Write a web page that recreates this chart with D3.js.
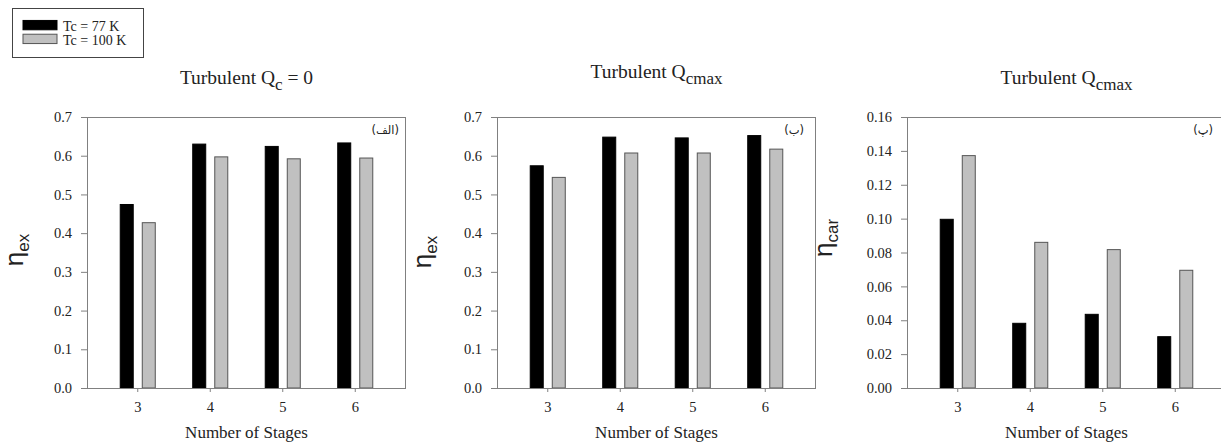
<!DOCTYPE html>
<html lang="en">
<head>
<meta charset="UTF-8" />
<title>Turbulent stages</title>
<style>
  body { margin: 0; background: #fff; }
  svg text { fill: #222; }
</style>
</head>
<body>
<script src="https://cdn.jsdelivr.net/npm/d3@7"></script>
<div id="app"></div>
<script>
// data
const stages = [3, 4, 5, 6];
const seriesNames = ["Tc = 77 K", "Tc = 100 K"];
const qc0Tc77 = [0.474, 0.630, 0.624, 0.633];
const qc0Tc100 = [0.427, 0.597, 0.592, 0.594];
const qmaxExTc77 = [0.574, 0.648, 0.646, 0.652];
const qmaxExTc100 = [0.544, 0.607, 0.607, 0.617];
const qmaxCarTc77 = [0.0996, 0.0382, 0.0435, 0.0303];
const qmaxCarTc100 = [0.1372, 0.0860, 0.0817, 0.0695];
const exTicks = [0, 0.1, 0.2, 0.3, 0.4, 0.5, 0.6, 0.7];
const carTicks = [0, 0.02, 0.04, 0.06, 0.08, 0.10, 0.12, 0.14, 0.16];

const W = 1221, H = 444;
const colors = ["#000000", "#c0c0c0"];
const strokes = ["#000000", "#555555"];
const serif = "'Liberation Serif', 'Times New Roman', serif";
const sans = "'Liberation Sans', Arial, sans-serif";

const svg = d3.select("#app").append("svg")
  .attr("width", W).attr("height", H);

//panels
const panels = [
  { left: 87, right: 406, title: "Turbulent Q", sub: "c", after: " = 0", titleY: 84,
    ylab: "ex", ylabX: 23, ylabY: 250, max: 0.7, ticks: exTicks, fmt: ".1f",
    vals: [qc0Tc77, qc0Tc100], tag: "(الف)", tagPad: 7 },
  { left: 497, right: 816, title: "Turbulent Q", sub: "cmax", after: "", titleY: 78,
    ylab: "ex", ylabX: 431, ylabY: 252, max: 0.7, ticks: exTicks, fmt: ".1f",
    vals: [qmaxExTc77, qmaxExTc100], tag: "(ب)", tagPad: 12 },
  { left: 907, right: 1226, title: "Turbulent Q", sub: "cmax", after: "", titleY: 84,
    ylab: "car", ylabX: 832, ylabY: 238, max: 0.16, ticks: carTicks, fmt: ".2f",
    vals: [qmaxCarTc77, qmaxCarTc100], tag: "(پ)", tagPad: 8 }
];
const plotTop = 117, plotBottom = 388;
const axisColor = "#808080";

panels.forEach(p => {
  const g = svg.append("g");
  const x = d3.scaleBand().domain(stages).range([p.left, p.right])
    .paddingInner(0).paddingOuter(0.2);
  const xs = d3.scaleBand().domain(seriesNames).range([0, x.bandwidth()])
    .paddingInner(0.41).paddingOuter(0.85);
  const y = d3.scaleLinear().domain([0, p.max]).range([plotBottom, plotTop]);

  // frame top and right
  g.append("line").attr("x1", p.left).attr("x2", p.right)
    .attr("y1", plotTop + 0.5).attr("y2", plotTop + 0.5).attr("stroke", axisColor);
  g.append("line").attr("x1", p.right - 0.5).attr("x2", p.right - 0.5)
    .attr("y1", plotTop).attr("y2", plotBottom).attr("stroke", axisColor);

  // bars
  seriesNames.forEach((s, si) => {
    g.selectAll(null).data(stages).enter().append("rect")
      .attr("x", (d) => x(d) + xs(s))
      .attr("width", xs.bandwidth())
      .attr("y", (d, i) => y(p.vals[si][i]))
      .attr("height", (d, i) => plotBottom - y(p.vals[si][i]))
      .attr("fill", colors[si])
      .attr("stroke", strokes[si])
      .attr("stroke-width", 1);
  });

  // y axis
  const ya = g.append("g").attr("transform", `translate(${p.left},0)`)
    .call(d3.axisLeft(y).tickValues(p.ticks).tickFormat(d3.format(p.fmt))
      .tickSize(6).tickPadding(9).tickSizeOuter(0));
  ya.select(".domain").attr("stroke", axisColor);
  ya.selectAll(".tick line").attr("stroke", axisColor);
  ya.selectAll("text").style("font-family", serif).style("font-size", "14.5px").attr("fill", "#222");

  // x axis
  const xa = g.append("g").attr("transform", `translate(0,${plotBottom})`)
    .call(d3.axisBottom(x).tickSize(4).tickPadding(10).tickSizeOuter(0));
  xa.select(".domain").attr("d", `M${p.left - 6},0.5H${p.right}`).attr("stroke", axisColor);
  xa.selectAll(".tick line").attr("stroke", axisColor);
  xa.selectAll("text").style("font-family", serif).style("font-size", "14.5px").attr("fill", "#222");

  // x title
  g.append("text").attr("x", (p.left + p.right) / 2).attr("y", 438)
    .attr("text-anchor", "middle")
    .style("font-family", serif).style("font-size", "17px")
    .text("Number of Stages");

  // panel title
  const t = g.append("text").attr("x", (p.left + p.right) / 2).attr("y", p.titleY)
    .attr("text-anchor", "middle")
    .style("font-family", serif).style("font-size", "19.5px");
  t.append("tspan").text(p.title);
  t.append("tspan").attr("dy", 6).style("font-size", "17px").text(p.sub);
  if (p.after) t.append("tspan").attr("dy", -6).text(p.after);

  // y label
  const yl = g.append("text")
    .attr("transform", `translate(${p.ylabX},${p.ylabY}) rotate(-90)`)
    .attr("text-anchor", "middle")
    .style("font-family", sans);
  yl.append("tspan").style("font-size", "26px").text("η");
  yl.append("tspan").attr("dy", 6).style("font-size", "17px").text(p.ylab);

  // corner tag
  g.append("text").attr("x", Math.min(p.right, W) - p.tagPad).attr("y", 134)
    .attr("text-anchor", "end")
    .style("font-family", "'DejaVu Sans', sans-serif").style("font-size", "11.5px")
    .text(p.tag);
});

//legend
const leg = svg.append("g");
leg.append("rect").attr("x", 12.5).attr("y", 8.5).attr("width", 131).attr("height", 49)
  .attr("fill", "#fff").attr("stroke", "#444");
const ly = d3.scaleBand().domain(seriesNames).range([17, 48]).padding(0.25);
leg.selectAll(".sw").data(seriesNames).enter().append("rect")
  .attr("x", 23).attr("y", (d) => ly(d)).attr("width", 34).attr("height", ly.bandwidth() - 1)
  .attr("fill", (d, i) => colors[i]).attr("stroke", (d, i) => strokes[i]);
leg.selectAll(".lt").data(seriesNames).enter().append("text")
  .attr("x", 63).attr("y", (d) => ly(d) + ly.bandwidth())
  .style("font-family", serif).style("font-size", "14px")
  .text((d) => d);
</script>
</body>
</html>
